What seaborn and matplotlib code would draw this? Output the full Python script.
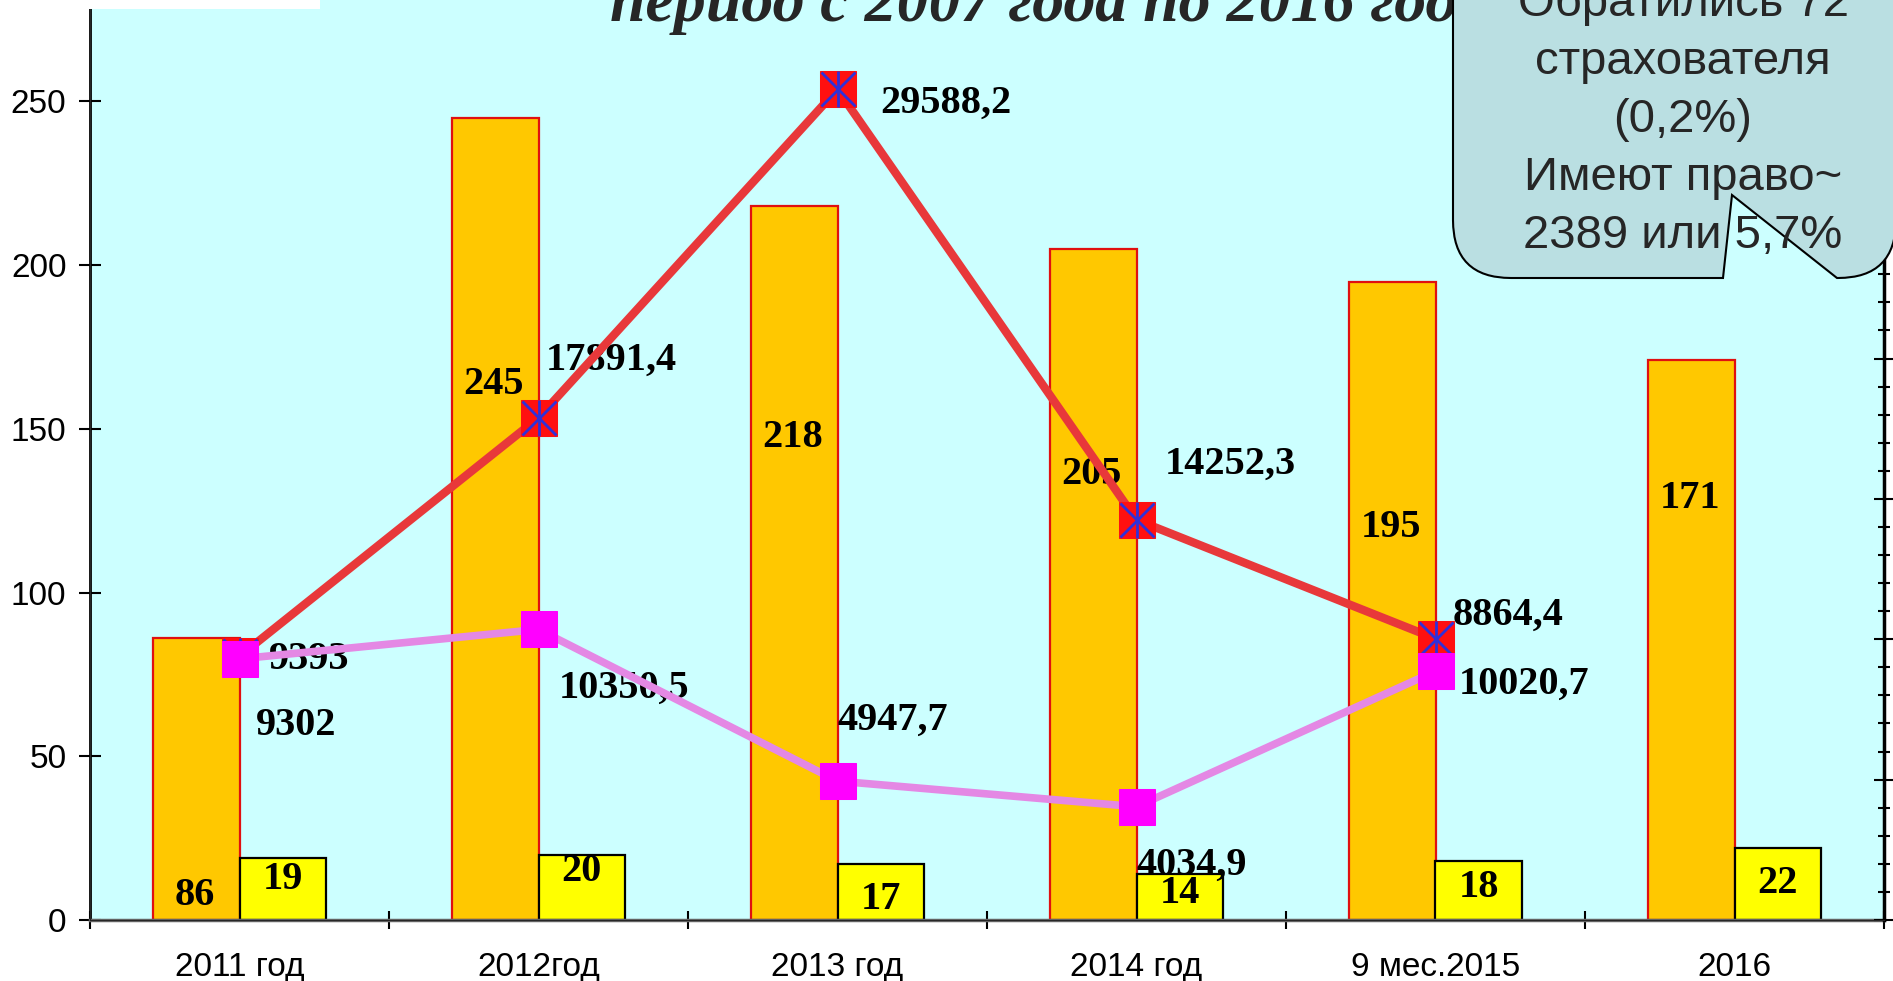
import numpy as np
import pandas as pd
import matplotlib
matplotlib.use("Agg")
import matplotlib.pyplot as plt
from matplotlib.path import Path
from matplotlib.patches import PathPatch, Rectangle
from matplotlib.ticker import MultipleLocator, FixedLocator
import seaborn as sns

# === данные ===
years = ["2011 год", "2012год", "2013 год", "2014 год", "9 мес.2015", "2016"]
orange_vals = [86, 245, 218, 205, 195, 171]
yellow_vals = [19, 20, 17, 14, 18, 22]

# линии (руб.), точки 2011..2015
red_vals = [9393, 17891.4, 29588.2, 14252.3, 10020.7]
magenta_vals = [9302, 10350.5, 4947.7, 4034.9, 8864.4]
red_labels = ["9393", "17891,4", "29588,2", "14252,3", "8864,4"]
magenta_labels = ["9302", "10350,5", "4947,7", "4034,9", "10020,7"]

title_text = "период с 2007 года по 2016 год"
callout_lines = ["Обратились 72", "страхователя", "(0,2%)", "Имеют право~", "2389 или 5,7%"]

# === оформление ===
ORANGE = "#FFC800"
YELLOW = "#FFFF00"
RED = "#E8383A"
MAGENTA = "#E488E4"
BG = "#CCFFFF"
SERIF = ["Liberation Serif", "DejaVu Serif"]
SANS = ["Liberation Sans", "DejaVu Sans"]

# где стоят подписи столбиков (по высоте) и подписи точек (смещение в pt)
orange_lab_y = [7.4, 163.7, 147.5, 136, 119.8, 128.7]
yellow_lab_y = [12.5, 14.7, 6.3, 8.1, 10, 11]
red_offsets = [(21, -2), (5, 41), (31, -10), (20, 40), (12, 16.5)]
magenta_offsets = [(11.5, -48), (14.5, -42.5), (0, 44), (0, -42), (16.5, -9.6)]

sns.set_style("ticks")
plt.rcParams["font.family"] = SANS

W, H = 1893, 981
fig = plt.figure(figsize=(W / 100, H / 100), dpi=100)
ax = fig.add_axes([90 / W, 61 / H, (1884 - 90) / W, 920 / H])
ax.set_facecolor(BG)

# === столбики ===
df = pd.DataFrame({
    "year": years * 2,
    "series": ["a"] * len(years) + ["b"] * len(years),
    "value": orange_vals + yellow_vals,
})
sns.barplot(data=df, x="year", y="value", hue="series", palette=[ORANGE, YELLOW],
            width=0.58, saturation=1, legend=False, ax=ax, zorder=2)
for p in ax.containers[0]:
    p.set_edgecolor("#E01010")
    p.set_linewidth(1.6)
for p in ax.containers[1]:
    p.set_edgecolor("black")
    p.set_linewidth(1.6)

lab_font = dict(family=SERIF, weight="bold", size=29, color="black")
for i, (v, y) in enumerate(zip(orange_vals, orange_lab_y)):
    ax.text(i - 0.15, y, str(v), ha="center", va="center", zorder=3, **lab_font)
for i, (v, y) in enumerate(zip(yellow_vals, yellow_lab_y)):
    ax.text(i + 0.145, y, str(v), ha="center", va="center", zorder=3, **lab_font)

ax.set_xlim(-0.5, len(years) - 0.5)
ax.set_ylim(0, 281)
ax.set_xticks(range(len(years)))
ax.set_xticklabels(years)
ax.xaxis.set_minor_locator(FixedLocator(np.arange(-0.5, len(years), 1)))
ax.set_yticks([0, 50, 100, 150, 200, 250])
ax.tick_params(axis="x", which="major", length=0, pad=23, labelsize=24, labelcolor="black")
ax.tick_params(axis="x", which="minor", direction="inout", length=13, width=1.5, color="black")
ax.tick_params(axis="y", direction="inout", length=16, width=1.5, labelsize=24, pad=9,
               color="black", labelcolor="black")
ax.set_xlabel("")
ax.set_ylabel("")
ax.spines["top"].set_visible(False)
ax.spines["left"].set_linewidth(2)
ax.spines["left"].set_color("black")
ax.spines["bottom"].set_color("#666666")
ax.spines["bottom"].set_linewidth(2.5)

# === линии на второй оси ===
ax2 = ax.twinx()
xs = list(range(len(red_vals)))
sns.lineplot(x=xs, y=red_vals, ax=ax2, color=RED, lw=6, marker="s", markersize=26,
             markerfacecolor="#FF1010", markeredgecolor="#FF1010", zorder=3)
ax2.plot(xs, red_vals, ls="none", marker="x", markersize=24, mew=2, color="#3030D8", zorder=4)
ax2.plot(xs, red_vals, ls="none", marker="|", markersize=26, mew=2, color="#3030D8", zorder=4)
sns.lineplot(x=xs, y=magenta_vals, ax=ax2, color=MAGENTA, lw=5.5, marker="s", markersize=26,
             markerfacecolor="#FF00FF", markeredgecolor="#FF00FF", zorder=5)

for x, v, t, off in zip(xs, red_vals, red_labels, red_offsets):
    ax2.annotate(t, (x, v), xytext=off, textcoords="offset points",
                 ha="left", va="center", zorder=2, **lab_font)
for x, v, t, off in zip(xs, magenta_vals, magenta_labels, magenta_offsets):
    ax2.annotate(t, (x, v), xytext=off, textcoords="offset points",
                 ha="left", va="center", zorder=2, **lab_font)

ax2.set_xlim(-0.5, len(years) - 0.5)
ax2.set_ylim(0, 32770)
ax2.yaxis.set_major_locator(MultipleLocator(5000))
ax2.yaxis.set_minor_locator(MultipleLocator(1000))
ax2.tick_params(axis="y", which="major", direction="inout", length=14, width=1.5,
                labelright=False, color="black")
ax2.tick_params(axis="y", which="minor", direction="inout", length=8, width=1.5, color="black")
ax2.set_ylabel("")
ax2.spines["top"].set_visible(False)
ax2.spines["right"].set_linewidth(2.5)
ax2.spines["right"].set_color("black")

# === заголовок (обрезан сверху) ===
fig.text(610 / W, 1 - 21 / H, title_text, family=SERIF, weight="bold", style="italic",
         size=46, ha="left", va="baseline", zorder=3)

# белая плашка слева вверху
fig.patches.append(Rectangle((89 / W, 1 - 9 / H), 231 / W, 12 / H, transform=fig.transFigure,
                             facecolor="white", edgecolor="none", zorder=4))

# === выноска ===
def fpt(x, y):
    return (x / W, 1 - y / H)

L, R, B, T, r = 1453, 1896, 278, -80, 58
verts = [fpt(L, T), fpt(L, B - r), fpt(L, B), fpt(L + r, B), fpt(1723, B), fpt(1732, 195),
         fpt(1837, B), fpt(R - r, B), fpt(R, B), fpt(R, B - r), fpt(R, T), fpt(L, T)]
codes = [Path.MOVETO, Path.LINETO, Path.CURVE3, Path.CURVE3, Path.LINETO, Path.LINETO,
         Path.LINETO, Path.LINETO, Path.CURVE3, Path.CURVE3, Path.LINETO, Path.CLOSEPOLY]
fig.patches.append(PathPatch(Path(verts, codes), transform=fig.transFigure,
                             facecolor="#BADFE2", edgecolor="black", lw=1.5, zorder=5))
for i, line in enumerate(callout_lines):
    fig.text(1683 / W, 1 - (16 + 58 * i) / H, line, family=SANS, size=34,
             ha="center", va="baseline", zorder=6)

fig.savefig("out.png", dpi=100)
